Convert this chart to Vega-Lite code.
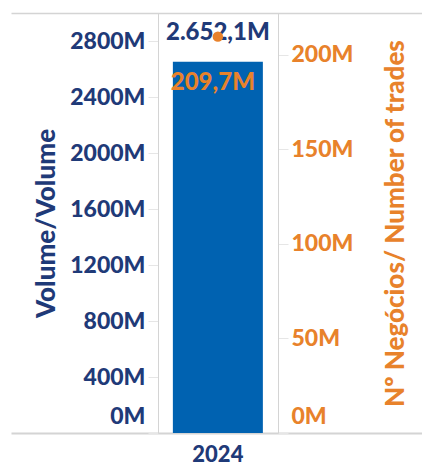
{
  "$schema": "https://vega.github.io/schema/vega-lite/v6.json",
  "width": 411,
  "height": 420,
  "autosize": {"type": "none"},
  "padding": {"left": 11, "top": 13, "right": 0, "bottom": 33},
  "background": "white",
  "data": {"values": [{"year": "2024", "volume": 2652.1, "trades": 209.7}]},
  "config": {
    "view": {"stroke": null},
    "font": "Lato",
    "locale": {"number": {"decimal": ",", "thousands": ".", "grouping": [3], "currency": ["", "M"]}}
  },
  "layer": [
    {
      "layer": [
        {
          "mark": {"type": "bar", "width": 90, "color": "#0062b1"},
          "encoding": {
            "x": {
              "field": "year", "type": "nominal",
              "scale": {"paddingInner": 0, "paddingOuter": 1, "align": 0.505},
              "axis": {"orient": "bottom", "title": null, "labelAngle": 0, "labelFont": "Lato", "labelFontWeight": 900, "labelFontSize": 22, "labelColor": "#1f3a78", "ticks": false, "labelPadding": 11, "domainColor": "#d4d4d4", "domainWidth": 2}
            },
            "y": {
              "field": "volume", "type": "quantitative",
              "scale": {"domain": [0, 3000], "nice": false},
              "axis": {
                "orient": "left", "offset": -147, "title": "Volume/Volume",
                "values": [0, 200, 400, 600, 800, 1000, 1200, 1400, 1600, 1800, 2000, 2200, 2400, 2600, 2800],
                "format": "$.0f",
                "labelExpression": "datum.value % 400 === 0 ? datum.label : ''",
                "labelFont": "Lato", "labelFontSize": 23, "labelFontWeight": 900, "labelColor": "#1f3a78",
                "labelOffset": {"condition": {"test": "datum.value === 0", "value": -17}, "value": 0},
                "tickColor": "#e6e6e6", "tickSize": 10, "labelPadding": 3,
                "domainColor": "#d4d4d4", "grid": false,
                "titleFont": "Lato", "titleFontSize": 26, "titleColor": "#1f3a78", "titleFontWeight": 900, "titlePadding": 10
              }
            }
          }
        },
        {
          "mark": {"type": "text", "color": "#1f3a78", "font": "Lato", "fontWeight": 900, "fontSize": 24, "baseline": "alphabetic", "dy": -22},
          "encoding": {
            "x": {"field": "year", "type": "nominal"},
            "y": {"field": "volume", "type": "quantitative"},
            "text": {"field": "volume", "type": "quantitative", "format": "$,.1f"}
          }
        }
      ]
    },
    {
      "layer": [
        {
          "mark": {"type": "point", "filled": true, "color": "#e8822b", "size": 110, "opacity": 1},
          "encoding": {
            "x": {
              "field": "year", "type": "nominal",
              "axis": {"orient": "top", "title": null, "labels": false, "ticks": false, "domainColor": "#d4d4d4", "domainWidth": 1.5}
            },
            "y": {
              "field": "trades", "type": "quantitative",
              "scale": {"domain": [0, 222.2], "nice": false},
              "axis": {
                "orient": "right", "offset": -144, "title": "Nº Negócios/ Number of trades", "titleAngle": 270, "titleBaseline": "top",
                "values": [0, 50, 100, 150, 200],
                "format": "$.0f",
                "labelFont": "Lato", "labelFontSize": 23, "labelFontWeight": 900, "labelColor": "#e8822b",
                "labelOffset": {"condition": {"test": "datum.value === 0", "value": -17}, "value": 0},
                "tickColor": "#e6e6e6", "tickSize": 10, "labelPadding": 3,
                "domainColor": "#d4d4d4", "grid": false,
                "titleFont": "Lato", "titleFontSize": 26, "titleColor": "#e8822b", "titleFontWeight": 900, "titlePadding": 30
              }
            }
          }
        },
        {
          "mark": {"type": "text", "color": "#e8822b", "font": "Lato", "fontWeight": 900, "fontSize": 24, "baseline": "alphabetic", "dy": 53, "dx": -5},
          "encoding": {
            "x": {"field": "year", "type": "nominal"},
            "y": {"field": "trades", "type": "quantitative"},
            "text": {"field": "trades", "type": "quantitative", "format": "$,.1f"}
          }
        }
      ]
    }
  ],
  "resolve": {"scale": {"y": "independent"}, "axis": {"x": "independent"}}
}
